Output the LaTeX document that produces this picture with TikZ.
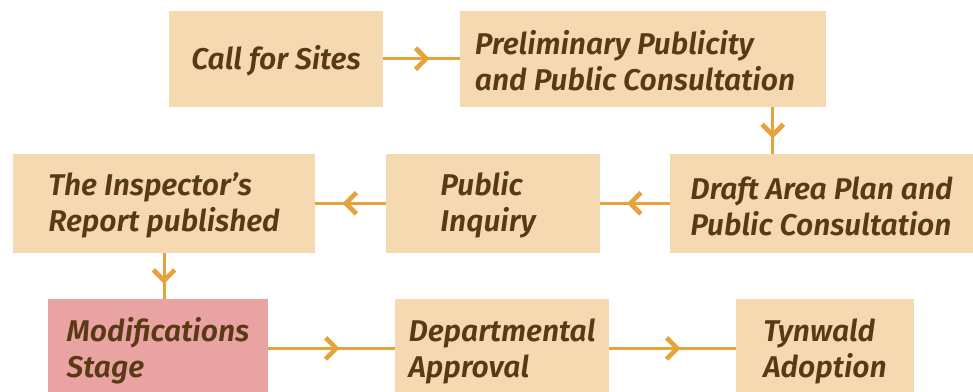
\documentclass[tikz,border=0pt]{standalone}
\usepackage{fontspec}
\setmainfont{Fira Sans SemiBold}[ItalicFont={Fira Sans SemiBold Italic}]
\usepackage{tikz}
\usetikzlibrary{arrows.meta,decorations.markings}
\definecolor{boxtan}{HTML}{F5D9B1}
\definecolor{boxpink}{HTML}{EAA3A3}
\definecolor{flowline}{HTML}{E8A23C}
\definecolor{txtbrown}{HTML}{5A3A14}
\tikzset{
    stage/.style={fill=boxtan, text=txtbrown, align=left, inner sep=0pt,
        font=\fontsize{22.5}{27}\selectfont\itshape,
        execute at begin node={\rule{0pt}{#1}}},
    stage/.default=48pt,
    flow/.style={color=flowline, line width=2.25pt, postaction={decorate},
        decoration={markings, mark=at position 0.5 with
            {\arrow[xshift=6pt]{Straight Barb[length=8pt,width=16pt,line width=3.5pt]}}}}
}

\begin{document}
\begin{tikzpicture}[x=0.75pt, y=0.75pt]
    \def\px{0.75pt}
    \useasboundingbox (0,0) rectangle (973,392);

    % top row
    \node[stage=21.5pt, minimum width=214*\px, minimum height=96*\px] (sites) at (276, 333.3) {Call for Sites};
    \node[stage, minimum width=366*\px, minimum height=96*\px] (prelim) at (643, 333.3) {Preliminary Publicity\\and Public Consultation\hspace*{12pt}};

    % middle row
    \node[stage, minimum width=303*\px, minimum height=98.7*\px] (draft) at (821.5, 188.7) {Draft Area Plan and\\Public Consultation};
    \node[stage, minimum width=214*\px, minimum height=98.7*\px] (inquiry) at (493, 188.7) {Public\\Inquiry\hspace*{7.5pt}};
    \node[stage, minimum width=302*\px, minimum height=98.7*\px] (report) at (164, 188.7) {The Inspector's\\Report published};

    % bottom row
    \node[stage, fill=boxpink, minimum width=220*\px, minimum height=98.7*\px] (modif) at (158, 43.6) {Modifications\\Stage};
    \node[stage, minimum width=214*\px, minimum height=98.7*\px] (approval) at (502, 43.6) {Departmental\\Approval};
    \node[stage, minimum width=178*\px, minimum height=98.7*\px] (adoption) at (825, 43.6) {Tynwald\\Adoption};

    \coordinate (drafttop) at ([xshift=103*\px]draft.north west);

    \draw[flow] (sites) -- (prelim);
    \draw[flow] (prelim.south -| drafttop) -- (drafttop);
    \draw[flow] (draft) -- (inquiry);
    \draw[flow] (inquiry) -- (report);
    \draw[flow] (report.south) -- (report.south |- modif.north);
    \draw[flow] (modif) -- (approval);
    \draw[flow] (approval) -- (adoption);
\end{tikzpicture}
\end{document}
